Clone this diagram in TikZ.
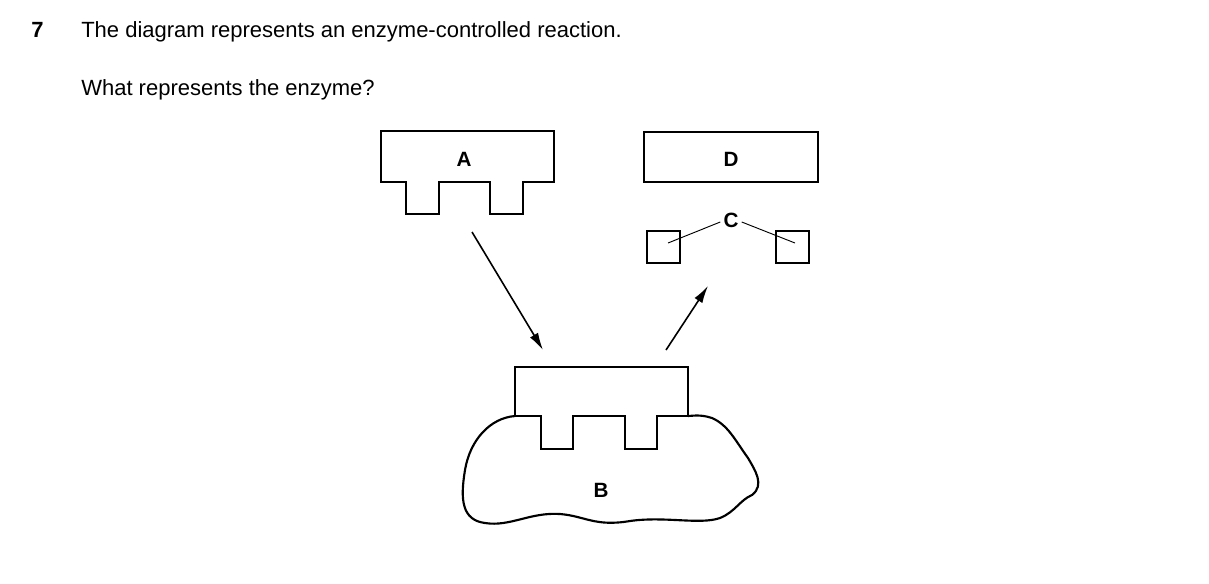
\documentclass[tikz,border=0pt]{standalone}
\usepackage{fontspec}
\setmainfont{Liberation Sans}
\usetikzlibrary{arrows.meta}
\begin{document}
\begin{tikzpicture}[x=0.75pt,y=-0.75pt,
  shp/.style={line width=1.6pt,line join=miter},
  lbl/.style={font=\fontsize{15.5}{18}\selectfont\bfseries,inner sep=0},
  txt/.style={font=\fontsize{16.5}{20}\selectfont,anchor=base west,inner sep=0},
  arr/.style={line width=1.2pt,-{Latex[length=13pt,width=7pt]}}]
\useasboundingbox (0,0) rectangle (1209,583);
\node[txt,font=\fontsize{16.5}{20}\selectfont\bfseries] (n7) at (31,37) {7};
\node[txt] (q1) at (81,37) {The diagram represents an enzyme-controlled reaction.};
\node[txt] (q2) at (81,95) {What represents the enzyme?};
% A
\draw[shp] (381,131) -- (554,131) -- (554,182) -- (523,182) -- (523,214) -- (490,214) -- (490,182) -- (439,182) -- (439,214) -- (406,214) -- (406,182) -- (381,182) -- cycle;
\node[lbl] (A) at (464,159) {A};
% D
\draw[shp] (644,132) rectangle (818,182);
\node[lbl] (D) at (731,159) {D};
% C
\draw[shp] (647,231) rectangle (680,263);
\draw[shp] (776,231) rectangle (809,263);
\node[lbl] (C) at (731,220) {C};
\coordinate (c1) at (668,243);
\coordinate (c2) at (795,243);
\draw[line width=0.7pt] (C.west) ++(-3,2) -- (c1);
\draw[line width=0.7pt] (C.east) ++(3,2) -- (c2);
% arrows
\coordinate (a1) at (472,232); \coordinate (a2) at (543,350);
\coordinate (b1) at (666,350); \coordinate (b2) at (708,286);
\draw[arr] (a1) -- (a2);
\draw[arr] (b1) -- (b2);
% B blob
\draw[shp,line join=round] (515,416) .. controls (490,418) and (470,440) .. (465,470)
 .. controls (460,500) and (462,520) .. (485,523)
 .. controls (510,527) and (530,512) .. (560,514)
 .. controls (585,516) and (595,527) .. (630,521)
 .. controls (665,516) and (700,525) .. (720,518)
 .. controls (735,512) and (740,500) .. (752,495)
 .. controls (765,485) and (755,470) .. (748,458)
 .. controls (735,440) and (728,425) .. (712,418)
 .. controls (700,414) and (692,416) .. (688,416);
\draw[shp,fill=white] (515,367) -- (688,367) -- (688,416) -- (657,416) -- (657,449) -- (625,449) -- (625,416) -- (573,416) -- (573,449) -- (541,449) -- (541,416) -- (515,416) -- cycle;
\node[lbl] (B) at (601,490) {B};
\end{tikzpicture}
\end{document}
